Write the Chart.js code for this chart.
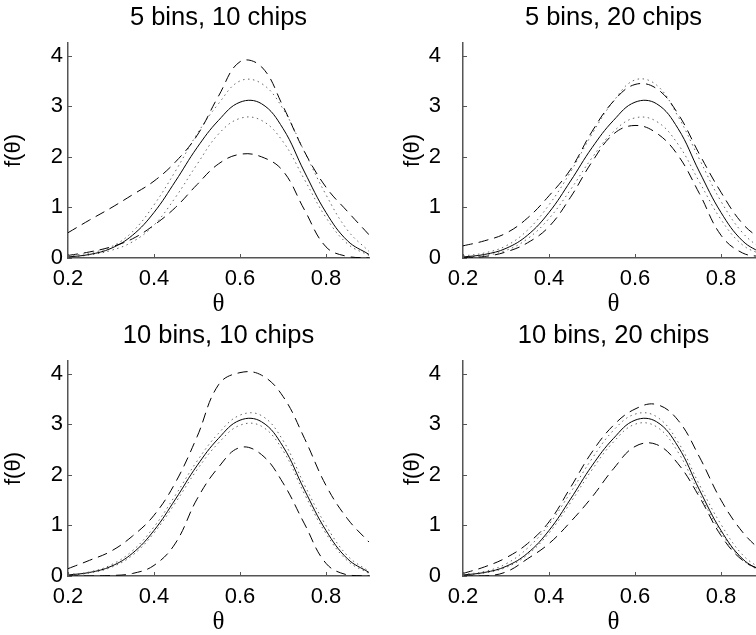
<!DOCTYPE html>
<html>
<head>
<meta charset="utf-8">
<script src="https://cdn.jsdelivr.net/npm/chart.js@4.4.1/dist/chart.umd.min.js"></script>
<style>
    html, body { margin: 0; padding: 0; background: #fff; overflow: hidden; }
    #wrap { position: relative; width: 756px; height: 635px; overflow: hidden; }
    .panel { position: absolute; }
</style>
</head>
<body>
<div id="wrap">
    <div class="panel" style="left:0;top:0"><canvas id="c0" width="378" height="317"></canvas></div>
    <div class="panel" style="left:378px;top:0"><canvas id="c1" width="395" height="317"></canvas></div>
    <div class="panel" style="left:0;top:318px"><canvas id="c2" width="378" height="317"></canvas></div>
    <div class="panel" style="left:378px;top:318px"><canvas id="c3" width="395" height="317"></canvas></div>
</div>
<script>
// theta grid and tick labels
const thetaGrid = [0.2, 0.25, 0.3, 0.35, 0.4, 0.45, 0.5, 0.55, 0.6, 0.65, 0.7, 0.75, 0.8, 0.85, 0.9];
const xTicks = [0.2, 0.4, 0.6, 0.8];
const yTicks = [0, 1, 2, 3, 4];

// true density (solid, same in every panel)
const trueDensity = [0.02, 0.07, 0.19, 0.45, 0.9, 1.52, 2.18, 2.72, 3.08, 3.05, 2.56, 1.7, 0.9, 0.34, 0.07];

// 5 bins, 10 chips
const b5c10UpperDash = [0.5, 0.75, 0.99, 1.25, 1.52, 1.9, 2.42, 3.2, 3.88, 3.78, 3.0, 2.1, 1.4, 0.92, 0.46];
const b5c10UpperDot  = [0.04, 0.1, 0.22, 0.52, 1.05, 1.72, 2.45, 3.05, 3.5, 3.45, 2.95, 2.1, 1.25, 0.55, 0.13];
const b5c10LowerDot  = [0.02, 0.06, 0.15, 0.32, 0.65, 1.2, 1.85, 2.45, 2.76, 2.72, 2.3, 1.55, 0.8, 0.28, 0.05];
const b5c10LowerDash = [0.05, 0.12, 0.22, 0.38, 0.65, 1.0, 1.45, 1.86, 2.05, 2.0, 1.72, 0.95, 0.22, 0.03, 0.0];

// 5 bins, 20 chips
const b5c20UpperDash = [0.24, 0.34, 0.49, 0.79, 1.23, 1.75, 2.5, 3.1, 3.43, 3.35, 2.85, 2.05, 1.3, 0.68, 0.32];
const b5c20UpperDot  = [0.04, 0.1, 0.24, 0.55, 1.05, 1.7, 2.45, 3.1, 3.52, 3.42, 2.8, 1.95, 1.12, 0.5, 0.14];
const b5c20LowerDot  = [0.02, 0.05, 0.15, 0.38, 0.78, 1.35, 1.98, 2.5, 2.77, 2.7, 2.25, 1.5, 0.76, 0.26, 0.05];
const b5c20LowerDash = [0.01, 0.03, 0.12, 0.3, 0.62, 1.2, 1.9, 2.45, 2.62, 2.47, 2.03, 1.27, 0.45, 0.1, 0.02];

// 10 bins, 10 chips
const b10c10UpperDash = [0.145, 0.31, 0.49, 0.79, 1.2, 1.85, 2.75, 3.78, 4.02, 3.97, 3.55, 2.72, 1.79, 1.13, 0.67];
const b10c10UpperDot  = [0.03, 0.08, 0.22, 0.5, 0.97, 1.6, 2.27, 2.82, 3.18, 3.17, 2.68, 1.8, 1.0, 0.4, 0.09];
const b10c10LowerDot  = [0.01, 0.06, 0.17, 0.41, 0.85, 1.45, 2.1, 2.63, 2.98, 2.96, 2.48, 1.62, 0.84, 0.3, 0.05];
const b10c10LowerDash = [0.0, 0.0, 0.01, 0.05, 0.21, 0.65, 1.52, 2.15, 2.54, 2.4, 1.84, 1.03, 0.25, 0.02, 0.0];

// 10 bins, 20 chips
const b10c20UpperDash = [0.05, 0.18, 0.36, 0.64, 1.07, 1.75, 2.45, 2.98, 3.3, 3.39, 3.08, 2.35, 1.5, 0.87, 0.44];
const b10c20UpperDot  = [0.03, 0.09, 0.24, 0.55, 1.02, 1.65, 2.32, 2.88, 3.2, 3.15, 2.65, 1.8, 1.02, 0.42, 0.1];
const b10c20LowerDot  = [0.02, 0.06, 0.17, 0.42, 0.85, 1.45, 2.1, 2.65, 3.0, 2.95, 2.45, 1.62, 0.86, 0.32, 0.06];
const b10c20LowerDash = [0.0, 0.0, 0.08, 0.34, 0.64, 1.07, 1.56, 2.12, 2.56, 2.6, 2.22, 1.56, 0.8, 0.31, 0.1];

const panelTitles = ['5 bins, 10 chips', '5 bins, 20 chips', '10 bins, 10 chips', '10 bins, 20 chips'];

const axisColor = '#555';
const sans = "'Liberation Sans', Arial, Helvetica, sans-serif";
const serif = "'Liberation Serif', 'Times New Roman', serif";

Chart.defaults.color = '#000';
Chart.defaults.animation = false;

// tick marks drawn inward, MATLAB style
const innerTicks = {
    id: 'innerTicks',
    afterDraw(chart) {
        const {ctx, chartArea, scales: {x, y}} = chart;
        ctx.save();
        ctx.strokeStyle = axisColor;
        ctx.lineWidth = 1;
        ctx.beginPath();
        x.ticks.forEach(t => {
            const px = Math.round(x.getPixelForValue(t.value)) + 0.5;
            ctx.moveTo(px, chartArea.bottom);
            ctx.lineTo(px, chartArea.bottom - 4);
        });
        y.ticks.forEach(t => {
            const py = Math.round(y.getPixelForValue(t.value)) + 0.5;
            ctx.moveTo(chartArea.left, py);
            ctx.lineTo(chartArea.left + 4, py);
        });
        ctx.stroke();
        ctx.restore();
    }
};

function lineSet(values, style) {
    const ds = {
        data: thetaGrid.map((t, i) => ({x: t, y: values[i]})),
        borderColor: '#000',
        borderWidth: 1,
        pointRadius: 0,
        tension: 0.4,
        fill: false
    };
    if (style === 'dash') {
        ds.borderDash = [10, 6];
    } else if (style === 'dot') {
        ds.borderDash = [1.5, 3.5];
        ds.borderColor = '#666';
    }
    return ds;
}

function makePanel(id, title, upperDash, upperDot, lowerDot, lowerDash, rightCol) {
    const yAxisWidth = rightCol ? 85 : 68;
    new Chart(document.getElementById(id), {
        type: 'line',
        data: {
            datasets: [
                lineSet(upperDash, 'dash'),
                lineSet(upperDot, 'dot'),
                lineSet(trueDensity, 'solid'),
                lineSet(lowerDot, 'dot'),
                lineSet(lowerDash, 'dash')
            ]
        },
        options: {
            responsive: false,
            layout: { padding: { left: 0, right: 9, top: 0, bottom: 0 } },
            plugins: {
                legend: { display: false },
                tooltip: { enabled: false },
                title: {
                    display: true,
                    text: title,
                    fullSize: false,
                    font: { family: sans, size: 25.5, weight: 'normal', lineHeight: 1.2 },
                    color: '#000',
                    padding: { top: 3, bottom: 9.4 }
                }
            },
            scales: {
                x: {
                    type: 'linear',
                    min: 0.2,
                    max: 0.9,
                    afterBuildTicks: s => { s.ticks = xTicks.map(v => ({value: v})); },
                    afterFit: s => { s.height = 59; },
                    grid: { display: false, drawTicks: false, tickLength: 0 },
                    border: { display: true, color: axisColor, width: 1.5 },
                    ticks: { font: { family: sans, size: 22 }, padding: 8, maxRotation: 0 },
                    title: { display: true, text: 'θ', font: { family: serif, size: 25 }, padding: { top: 0, bottom: -2 } }
                },
                y: {
                    type: 'linear',
                    min: 0,
                    max: 4.25,
                    afterBuildTicks: s => { s.ticks = yTicks.map(v => ({value: v})); },
                    afterFit: s => { s.width = yAxisWidth; },
                    grid: { display: false, drawTicks: false, tickLength: 0 },
                    border: { display: true, color: axisColor, width: 1.5 },
                    ticks: { font: { family: sans, size: 22 }, padding: rightCol ? 22 : 5 },
                    title: { display: true, text: 'f(θ)', font: { family: sans, size: 22 }, padding: { top: rightCol ? 21.5 : 1, bottom: 0 } }
                }
            }
        },
        plugins: [innerTicks]
    });
}

makePanel('c0', panelTitles[0], b5c10UpperDash, b5c10UpperDot, b5c10LowerDot, b5c10LowerDash, false);
makePanel('c1', panelTitles[1], b5c20UpperDash, b5c20UpperDot, b5c20LowerDot, b5c20LowerDash, true);
makePanel('c2', panelTitles[2], b10c10UpperDash, b10c10UpperDot, b10c10LowerDot, b10c10LowerDash, false);
makePanel('c3', panelTitles[3], b10c20UpperDash, b10c20UpperDot, b10c20LowerDot, b10c20LowerDash, true);
</script>
</body>
</html>
